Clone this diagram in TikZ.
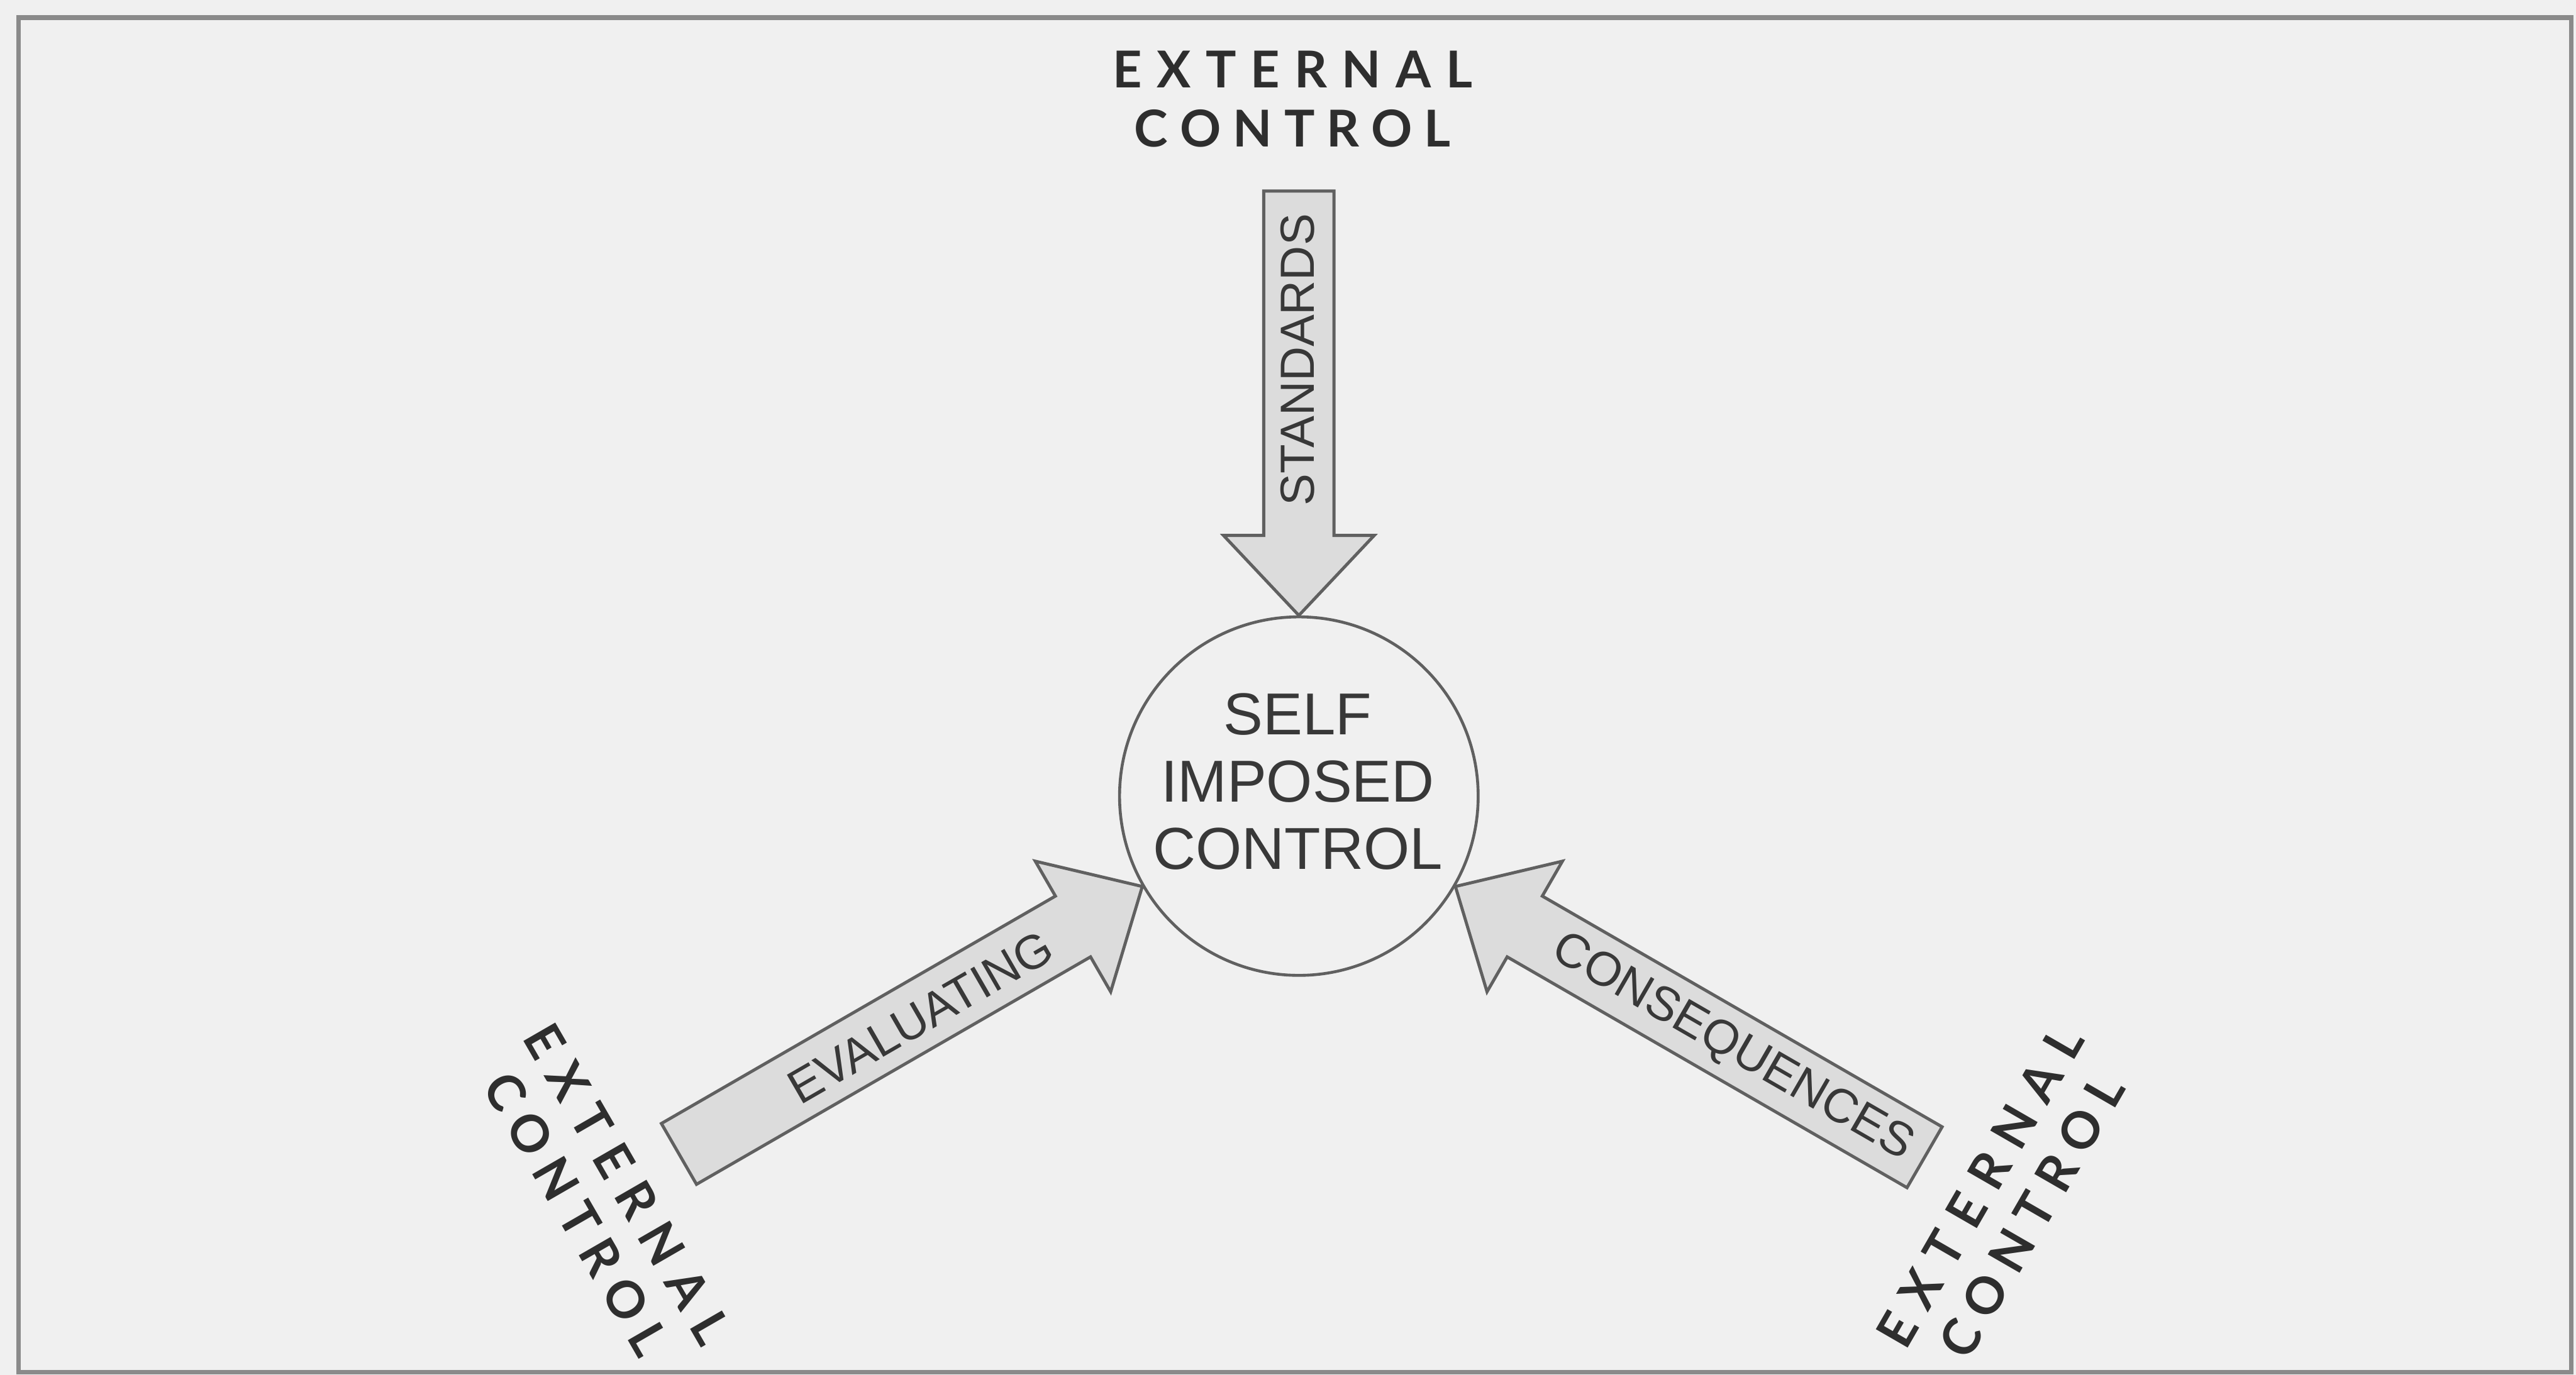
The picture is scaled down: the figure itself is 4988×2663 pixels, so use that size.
\documentclass[tikz,border=0pt]{standalone}
\usepackage{fontspec}
\newfontfamily\arialf{Liberation Sans}
\newfontfamily\ecfont{Lato}
\usetikzlibrary{calc}
\definecolor{pagebg}{HTML}{F0F0F0}
\definecolor{framec}{HTML}{8A8A8A}
\definecolor{linec}{HTML}{606060}
\definecolor{arrowfill}{HTML}{DCDCDC}
\definecolor{labc}{HTML}{383838}
\definecolor{ecc}{HTML}{2E2E2E}
\begin{document}
\begin{tikzpicture}[x=0.01cm,y=-0.01cm,
  blockarrow/.style={draw=linec, line width=1.7pt, fill=arrowfill, line join=miter},
  circ/.style={circle, draw=linec, line width=1.6pt, minimum size=6.94cm, inner sep=0pt},
  arrowlabel/.style={font=\arialf\fontsize{26.4pt}{30pt}\selectfont, text=labc, inner sep=0pt},
  centrelabel/.style={font=\arialf\fontsize{32.6pt}{37pt}\selectfont, text=labc, align=center, inner sep=0pt},
  extlabel/.style={font=\ecfont\bfseries\fontsize{28pt}{32.7pt}\selectfont, text=ecc, align=center, inner sep=0pt}]
\fill[pagebg] (0,0) rectangle (4988,2663);
\useasboundingbox (0,0) rectangle (4988,2663);
\draw[framec, line width=2.6pt] (36,34) rectangle (4979,2658);
% central circle
\node[circ] (self) at (2515,1542) {};
\node[centrelabel] (selftext) at (2513,1514) {SELF\\IMPOSED\\CONTROL};
% block arrows
\begin{scope}[shift={(self.north)}, rotate=-90]
  \draw[blockarrow] (-822,68) -- (-155,68) -- (-155,146) -- (0,0) -- (-155,-146) -- (-155,-68) -- (-822,-68) -- cycle;
\end{scope}
\begin{scope}[shift={(self.210)}, rotate=30]
  \draw[blockarrow] (-1036,68) -- (-155,68) -- (-155,146) -- (0,0) -- (-155,-146) -- (-155,-68) -- (-1036,-68) -- cycle;
\end{scope}
\begin{scope}[shift={(self.-30)}, rotate=150]
  \draw[blockarrow] (-1049,68) -- (-155,68) -- (-155,146) -- (0,0) -- (-155,-146) -- (-155,-68) -- (-1049,-68) -- cycle;
\end{scope}
% arrow labels
\node[arrowlabel, rotate=90] (std) at (2513,697) {STANDARDS};
\node[arrowlabel, rotate=30] (eval) at (1782,1970) {EVALUATING};
\node[arrowlabel, rotate=-30] (cons) at (3354,2030) {CONSEQUENCES};
% external control labels
\node[extlabel] (ectop) at (2503,192) {\hbox to 6.95cm{E\hfil X\hfil T\hfil E\hfil R\hfil N\hfil A\hfil L}\\\hbox to 6.12cm{C\hfil O\hfil N\hfil T\hfil R\hfil O\hfil L}};
\node[extlabel, rotate=-60] (ecleft) at (1165,2322) {\hbox to 6.95cm{E\hfil X\hfil T\hfil E\hfil R\hfil N\hfil A\hfil L}\\\hbox to 6.12cm{C\hfil O\hfil N\hfil T\hfil R\hfil O\hfil L}};
\node[extlabel, rotate=60] (ecright) at (3884,2327) {\hbox to 6.95cm{E\hfil X\hfil T\hfil E\hfil R\hfil N\hfil A\hfil L}\\\hbox to 6.12cm{C\hfil O\hfil N\hfil T\hfil R\hfil O\hfil L}};
\end{tikzpicture}
\end{document}
